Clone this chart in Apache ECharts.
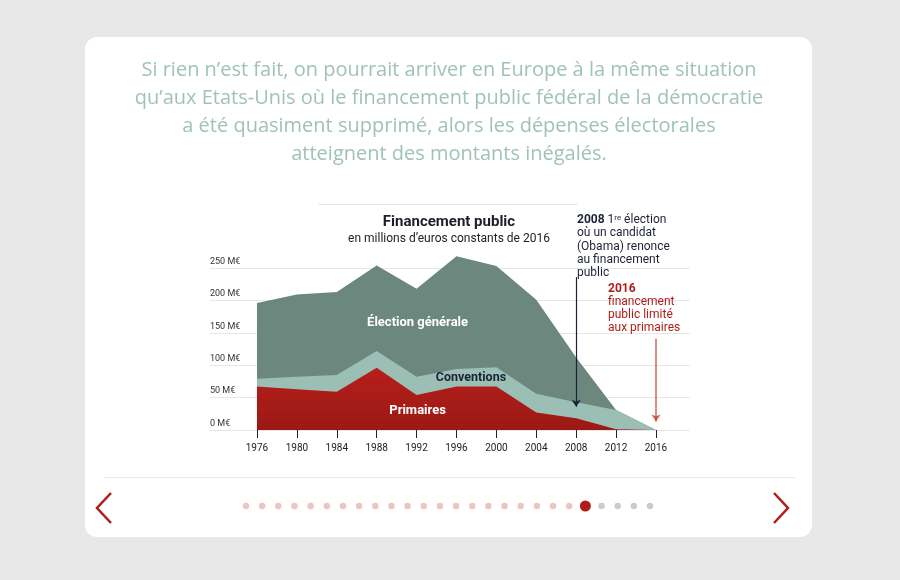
<!DOCTYPE html>
<html>
<head>
<meta charset="utf-8">
<script src="https://cdn.jsdelivr.net/npm/echarts@6/dist/echarts.min.js"></script>
<style>
  html, body { margin: 0; padding: 0; background: #e8e8e8; }
  #chart { width: 900px; height: 580px; }
</style>
</head>
<body>
<div id="chart"></div>
<script>
// election years
var years = [1976, 1980, 1984, 1988, 1992, 1996, 2000, 2004, 2008, 2012, 2016];
// millions d'euros constants de 2016, stacked bottom to top
var primaires = [67, 63, 59, 96, 54, 67, 67, 27, 18, 1, 0];
var conventions = [12, 19, 26, 26, 28, 27, 30, 29, 25, 30, 0];
var electionGenerale = [117, 127, 128, 132, 136, 174, 156, 145, 69, 0, 0];

var RED = '#b01d18';
var NAVY = '#1d2236';
var FONT = 'Roboto, "Noto Sans", sans-serif';

// x is a value axis, so echarts would stack on x: build the running totals here
function stacked(layers) {
  return years.map(function (y, i) {
    var s = 0;
    layers.forEach(function (l) { s += l[i]; });
    return [y, s];
  });
}

var myChart = echarts.init(document.getElementById('chart'));

// pagination dots under the chart
var dots = [];
for (var i = 0; i < 26; i++) {
  var col = i < 21 ? '#efc3c1' : (i === 21 ? RED : '#cbcbcb');
  dots.push({
    type: 'circle',
    shape: { cx: 246 + i * 16.16, cy: 506, r: i === 21 ? 5.5 : 3.2 },
    style: { fill: col },
    z: 1
  });
}

function areaSeries(name, data, color, z) {
  return {
    name: name,
    type: 'line',
    symbol: 'none',
    clip: false,
    lineStyle: { width: 0 },
    areaStyle: { opacity: 1, color: color },
    data: data,
    z: z
  };
}

var prim = areaSeries('Primaires', stacked([primaires]),
  { type: 'linear', x: 0, y: 0, x2: 0, y2: 1,
    colorStops: [{ offset: 0, color: '#b61f1b' }, { offset: 1, color: '#9b1915' }] }, 4);

prim.markPoint = {
  silent: true,
  symbolSize: 0,
  data: [
    { coord: [1992.1, 29], label: { show: true, formatter: 'Primaires', color: '#fff', fontSize: 13, fontWeight: 'bold', fontFamily: FONT } },
    { coord: [1992.1, 165], label: { show: true, formatter: 'Élection générale', color: '#fff', fontSize: 13, fontWeight: 'bold', fontFamily: FONT } },
    { coord: [1997.45, 81], label: { show: true, formatter: 'Conventions', color: NAVY, fontSize: 12.5, fontWeight: 'bold', fontFamily: FONT } }
  ]
};
prim.markLine = {
  silent: true,
  symbol: ['none', 'arrow'],
  symbolSize: [7, 7],
  label: { show: false },
  data: [
    [{ coord: [2008, 236], lineStyle: { color: NAVY, width: 1.2, type: 'solid', opacity: 1 } },
     { coord: [2008, 36] }],
    [{ coord: [2016, 141], lineStyle: { color: '#c9403b', width: 1.5, type: 'solid', opacity: 0.8 } },
     { coord: [2016, 13] }]
  ]
};

var option = {
  backgroundColor: '#e8e8e8',
  animation: false,
  textStyle: { fontFamily: FONT },
  grid: { left: 210, right: 210, top: 268, bottom: 150 },
  xAxis: {
    type: 'value',
    min: 1971.29,
    max: 2019.41,
    offset: 3,
    axisLine: { show: false },
    splitLine: { show: false },
    axisTick: { show: true, length: 8, customValues: years, lineStyle: { color: '#222', width: 1 } },
    axisLabel: {
      customValues: years, margin: 10, color: '#222', fontSize: 10, fontFamily: FONT,
      formatter: function (v) { return String(v); }
    }
  },
  yAxis: {
    type: 'value',
    min: 0,
    max: 250,
    interval: 50,
    axisLine: { show: false },
    axisTick: { show: false },
    splitLine: { lineStyle: { color: '#e6e6e6', width: 1 } },
    axisLabel: {
      inside: true,
      margin: 0,
      align: 'left',
      verticalAlign: 'bottom',
      padding: [0, 0, 2, 0],
      color: '#333',
      fontSize: 9,
      fontFamily: FONT,
      formatter: function (v) { return v + ' M€'; }
    }
  },
  series: [
    areaSeries('Élection générale', stacked([primaires, conventions, electionGenerale]), '#6b877e', 2),
    areaSeries('Conventions', stacked([primaires, conventions]), '#9bbfb5', 3),
    prim
  ],
  graphic: {
    elements: [
      {
        type: 'rect',
        shape: { x: 85, y: 37, width: 727, height: 500, r: 12 },
        style: { fill: '#fff' },
        z: -10
      },
      {
        type: 'text',
        x: 449, y: 56,
        style: {
          text: 'Si rien n\u2019est fait, on pourrait arriver en Europe à la même situation\n' +
                'qu\u2019aux Etats-Unis où le financement public fédéral de la démocratie\n' +
                'a été quasiment supprimé, alors les dépenses électorales\n' +
                'atteignent des montants inégalés.',
          align: 'center', verticalAlign: 'top',
          textAlign: 'center', textVerticalAlign: 'top',
          font: '20px "Open Sans", sans-serif',
          lineHeight: 28,
          fill: '#a0c3b4'
        },
        z: 1
      },
      {
        type: 'line',
        shape: { x1: 318, y1: 204.5, x2: 578, y2: 204.5 },
        style: { stroke: '#e6e6e6', lineWidth: 1 },
        z: 1
      },
      {
        type: 'text',
        x: 449, y: 222,
        style: {
          text: 'Financement public',
          align: 'center', verticalAlign: 'middle',
          textAlign: 'center', textVerticalAlign: 'middle',
          font: 'bold 15px ' + FONT, fill: '#1d1d2b'
        },
        z: 1
      },
      {
        type: 'text',
        x: 449, y: 239,
        style: {
          text: 'en millions d\u2019euros constants de 2016',
          align: 'center', verticalAlign: 'middle',
          textAlign: 'center', textVerticalAlign: 'middle',
          font: '12px ' + FONT, fill: '#222'
        },
        z: 1
      },
      {
        type: 'text',
        x: 577, y: 213.5,
        style: {
          text: '{b|2008} 1{s|re} élection\noù un candidat\n(Obama) renonce\nau financement\npublic',
          align: 'left', verticalAlign: 'top',
          textAlign: 'left', textVerticalAlign: 'top',
          font: '12px ' + FONT, fill: NAVY, lineHeight: 13.3,
          rich: {
            b: { font: 'bold 12px ' + FONT, fill: NAVY, lineHeight: 13.3 },
            s: { font: '8px ' + FONT, fill: NAVY, padding: [0, 0, 5, 0], lineHeight: 13.3 }
          }
        },
        z: 1
      },
      {
        type: 'text',
        x: 608, y: 282.5,
        style: {
          text: '{b|2016}\nfinancement\npublic limité\naux primaires',
          align: 'left', verticalAlign: 'top',
          textAlign: 'left', textVerticalAlign: 'top',
          font: '12px ' + FONT, fill: RED, lineHeight: 13,
          rich: { b: { font: 'bold 12px ' + FONT, fill: RED, lineHeight: 13 } }
        },
        z: 1
      },
      {
        type: 'line',
        shape: { x1: 104, y1: 477.5, x2: 795, y2: 477.5 },
        style: { stroke: '#e8e8e8', lineWidth: 1 },
        z: 1
      },
      {
        type: 'polyline',
        shape: { points: [[111, 493], [97, 508], [111, 523]] },
        style: { stroke: RED, lineWidth: 2.5, fill: null },
        z: 1
      },
      {
        type: 'polyline',
        shape: { points: [[774, 493], [788, 508], [774, 523]] },
        style: { stroke: RED, lineWidth: 2.5, fill: null },
        z: 1
      }
    ].concat(dots)
  }
};

myChart.setOption(option);
</script>
</body>
</html>
